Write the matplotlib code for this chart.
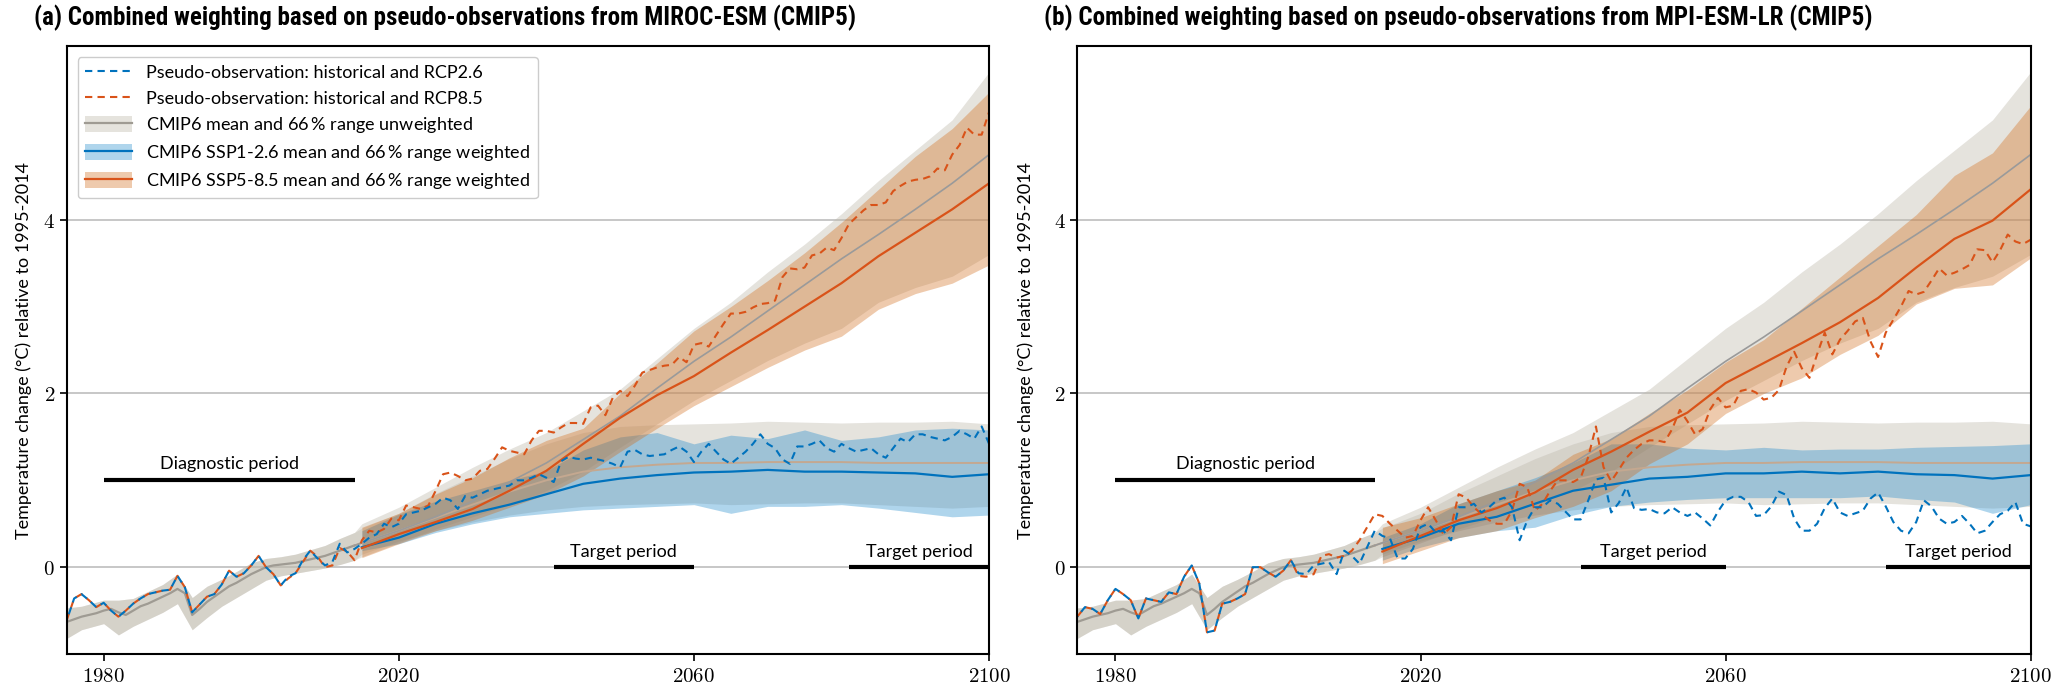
import numpy as np
import matplotlib
matplotlib.use("Agg")
import matplotlib.pyplot as plt
from matplotlib.patches import Patch
from matplotlib.lines import Line2D

plt.rcParams['mathtext.fontset'] = 'cm'
SANS = ['Lato', 'DejaVu Sans']
TITLEF = ['Roboto Condensed', 'Roboto', 'DejaVu Sans']

# ---------------- data ----------------
# pseudo-observations, 1975-2003 shared, then 2004-2100 per scenario
a_obs_hist = [-0.61, -0.36, -0.31, -0.38, -0.46, -0.41, -0.50, -0.57, -0.50, -0.42,
              -0.36, -0.31, -0.29, -0.27, -0.26, -0.10, -0.23, -0.52, -0.43, -0.34,
              -0.31, -0.20, -0.04, -0.11, -0.07, 0.02, 0.13, 0.00, -0.08]
a_obs26 = [-0.21, -0.11, -0.07, 0.08, 0.19, 0.10, 0.02, 0.06, 0.27, 0.17, 0.21,
           0.27, 0.34, 0.38, 0.50, 0.46, 0.50, 0.61, 0.63, 0.65, 0.69,
           0.73, 0.80, 0.77, 0.67, 0.82, 0.80, 0.84, 0.88, 0.90, 0.92,
           0.94, 1.00, 1.00, 1.03, 1.07, 1.03, 0.98, 1.22, 1.27, 1.25,
           1.24, 1.26, 1.24, 1.22, 1.19, 1.15, 1.33, 1.35, 1.30, 1.28,
           1.29, 1.30, 1.35, 1.39, 1.33, 1.21, 1.33, 1.42, 1.33, 1.24,
           1.19, 1.26, 1.33, 1.42, 1.53, 1.42, 1.37, 1.24, 1.19, 1.39,
           1.39, 1.42, 1.46, 1.37, 1.33, 1.42, 1.37, 1.33, 1.35, 1.37,
           1.30, 1.26, 1.37, 1.48, 1.44, 1.53, 1.53, 1.50, 1.48, 1.46,
           1.50, 1.57, 1.53, 1.48, 1.62, 1.42]
a_obs85 = [-0.21, -0.13, -0.07, 0.06, 0.19, 0.12, 0.00, 0.02, 0.22, 0.18, 0.08,
           0.31, 0.42, 0.40, 0.44, 0.56, 0.54, 0.71, 0.69, 0.67, 0.71,
           0.88, 1.07, 1.09, 1.05, 1.00, 1.02, 1.11, 1.13, 1.25, 1.38,
           1.34, 1.32, 1.30, 1.46, 1.57, 1.57, 1.55, 1.61, 1.66, 1.66,
           1.65, 1.84, 1.86, 1.75, 1.95, 2.03, 1.97, 2.09, 2.24, 2.27,
           2.30, 2.32, 2.33, 2.42, 2.36, 2.56, 2.58, 2.54, 2.67, 2.80,
           2.92, 2.92, 2.94, 2.99, 3.03, 3.04, 3.07, 3.34, 3.44, 3.43,
           3.45, 3.59, 3.61, 3.68, 3.65, 3.79, 3.95, 4.03, 4.11, 4.17,
           4.17, 4.20, 4.33, 4.39, 4.44, 4.46, 4.47, 4.50, 4.59, 4.57,
           4.75, 4.86, 5.06, 4.98, 4.98, 5.24]

b_obs_hist = [-0.57, -0.46, -0.48, -0.54, -0.38, -0.25, -0.31, -0.38, -0.59, -0.36,
              -0.38, -0.40, -0.29, -0.31, -0.11, 0.02, -0.19, -0.75, -0.73, -0.42,
              -0.40, -0.36, -0.31, 0.00, 0.00, -0.06, -0.11, -0.04, 0.08]
b_obs26 = [-0.07, -0.08, 0.02, 0.04, 0.06, -0.08, 0.19, 0.13, 0.04, 0.23, 0.42,
           0.36, 0.33, 0.10, 0.10, 0.21, 0.46, 0.50, 0.40, 0.42, 0.31,
           0.69, 0.69, 0.73, 0.63, 0.69, 0.77, 0.80, 0.69, 0.31, 0.54,
           0.69, 0.69, 0.77, 0.73, 0.64, 0.55, 0.55, 0.77, 1.01, 1.03,
           0.63, 0.74, 0.92, 0.68, 0.66, 0.67, 0.63, 0.62, 0.69, 0.63,
           0.59, 0.63, 0.56, 0.48, 0.64, 0.77, 0.81, 0.81, 0.75, 0.59,
           0.60, 0.70, 0.87, 0.83, 0.56, 0.42, 0.42, 0.50, 0.68, 0.79,
           0.63, 0.59, 0.62, 0.65, 0.79, 0.86, 0.70, 0.52, 0.42, 0.39,
           0.52, 0.77, 0.70, 0.56, 0.50, 0.52, 0.59, 0.50, 0.39, 0.42,
           0.52, 0.61, 0.65, 0.75, 0.50, 0.47]
b_obs85 = [-0.10, -0.11, -0.08, 0.13, 0.15, 0.11, 0.13, 0.19, 0.31, 0.46, 0.61,
           0.59, 0.50, 0.42, 0.34, 0.36, 0.54, 0.69, 0.54, 0.38, 0.46,
           0.84, 0.80, 0.69, 0.61, 0.54, 0.50, 0.50, 0.65, 0.96, 0.92,
           0.65, 0.73, 0.88, 1.00, 1.00, 0.98, 1.03, 1.27, 1.62, 1.15,
           0.99, 1.12, 1.26, 1.35, 1.42, 1.46, 1.46, 1.44, 1.59, 1.81,
           1.68, 1.53, 1.59, 1.82, 1.95, 1.84, 1.86, 2.03, 2.05, 2.01,
           1.93, 1.95, 2.04, 2.31, 2.48, 2.29, 2.18, 2.45, 2.70, 2.45,
           2.62, 2.72, 2.83, 2.87, 2.60, 2.42, 2.70, 2.85, 3.00, 3.18,
           3.14, 3.17, 3.30, 3.44, 3.36, 3.39, 3.43, 3.48, 3.66, 3.65,
           3.51, 3.65, 3.83, 3.75, 3.72, 3.77]

# CMIP6 unweighted (same in both panels)
hist_band_years = [1975, 1977, 1980, 1982, 1984, 1986, 1988, 1990, 1992, 1994,
                   1996, 1998, 2000, 2002, 2004, 2006, 2008, 2010, 2012, 2014]
hist_lo = [-0.82, -0.72, -0.65, -0.78, -0.68, -0.60, -0.52, -0.42, -0.72, -0.58,
           -0.45, -0.35, -0.25, -0.15, -0.10, -0.07, -0.04, -0.01, 0.03, 0.08]
hist_hi = [-0.47, -0.45, -0.38, -0.38, -0.36, -0.28, -0.20, -0.08, -0.35, -0.22,
           -0.14, -0.05, 0.05, 0.10, 0.12, 0.15, 0.20, 0.25, 0.33, 0.40]
hist_mean_years = list(range(1975, 2015))
hist_mean = [-0.63, -0.60, -0.57, -0.55, -0.53, -0.50, -0.48, -0.52, -0.55, -0.50,
             -0.45, -0.42, -0.38, -0.34, -0.30, -0.25, -0.30, -0.55, -0.48, -0.40,
             -0.34, -0.28, -0.22, -0.18, -0.13, -0.08, -0.04, 0.00, 0.02, 0.03,
             0.04, 0.05, 0.07, 0.09, 0.11, 0.13, 0.16, 0.19, 0.22, 0.25]

fut_years = [2015, 2020, 2025, 2030, 2035, 2040, 2045, 2050, 2055, 2060,
             2065, 2070, 2075, 2080, 2085, 2090, 2095, 2100]
unw26_lo = [0.15, 0.30, 0.42, 0.52, 0.60, 0.66, 0.70, 0.72, 0.73, 0.74,
            0.72, 0.73, 0.74, 0.74, 0.72, 0.70, 0.68, 0.70]
unw26_hi = [0.45, 0.62, 0.85, 1.05, 1.25, 1.42, 1.55, 1.62, 1.64, 1.65,
            1.66, 1.68, 1.67, 1.66, 1.67, 1.67, 1.68, 1.65]
unw26_mean = [0.28, 0.42, 0.57, 0.72, 0.87, 1.00, 1.10, 1.15, 1.18, 1.20,
              1.20, 1.21, 1.21, 1.21, 1.20, 1.20, 1.20, 1.20]
unw85_lo = [0.12, 0.28, 0.44, 0.58, 0.72, 0.88, 1.10, 1.38, 1.65, 1.92,
            2.15, 2.38, 2.58, 2.75, 3.05, 3.22, 3.35, 3.60]
unw85_hi = [0.50, 0.69, 0.92, 1.15, 1.36, 1.55, 1.80, 2.05, 2.40, 2.75,
            3.05, 3.40, 3.72, 4.07, 4.45, 4.80, 5.15, 5.70]
unw85_mean = [0.28, 0.42, 0.58, 0.76, 0.98, 1.20, 1.47, 1.74, 2.06, 2.37,
              2.65, 2.95, 3.25, 3.55, 3.83, 4.12, 4.42, 4.75]

# CMIP6 weighted, panel a (MIROC-ESM)
a_w26_lo = [0.19, 0.27, 0.40, 0.50, 0.58, 0.62, 0.66, 0.68, 0.70, 0.72,
            0.62, 0.70, 0.70, 0.72, 0.68, 0.63, 0.58, 0.60]
a_w26_hi = [0.42, 0.61, 0.76, 0.88, 1.00, 1.11, 1.35, 1.50, 1.55, 1.42,
            1.52, 1.48, 1.58, 1.46, 1.50, 1.58, 1.60, 1.58]
a_w26_mean = [0.23, 0.34, 0.50, 0.62, 0.72, 0.84, 0.96, 1.02, 1.06, 1.09,
              1.10, 1.12, 1.10, 1.10, 1.09, 1.08, 1.04, 1.07]
a_w85_lo = [0.11, 0.27, 0.42, 0.54, 0.69, 0.84, 1.05, 1.33, 1.60, 1.86,
            2.08, 2.30, 2.50, 2.66, 2.97, 3.15, 3.27, 3.48]
a_w85_hi = [0.46, 0.62, 0.84, 1.03, 1.26, 1.46, 1.60, 2.00, 2.35, 2.72,
            3.00, 3.30, 3.62, 3.97, 4.35, 4.73, 5.05, 5.47]
a_w85_mean = [0.22, 0.38, 0.52, 0.67, 0.88, 1.11, 1.42, 1.72, 1.98, 2.20,
              2.47, 2.73, 3.00, 3.27, 3.58, 3.85, 4.12, 4.42]

# CMIP6 weighted, panel b (MPI-ESM-LR)
b_w26_lo = [0.08, 0.23, 0.34, 0.42, 0.46, 0.60, 0.70, 0.75, 0.78, 0.80,
            0.80, 0.80, 0.80, 0.82, 0.78, 0.75, 0.62, 0.72]
b_w26_hi = [0.34, 0.50, 0.73, 0.88, 1.03, 1.20, 1.42, 1.42, 1.37, 1.35,
            1.38, 1.35, 1.36, 1.36, 1.38, 1.39, 1.40, 1.42]
b_w26_mean = [0.21, 0.34, 0.50, 0.58, 0.73, 0.88, 0.95, 1.02, 1.04, 1.08,
              1.08, 1.10, 1.08, 1.10, 1.07, 1.06, 1.02, 1.06]
b_w85_lo = [0.04, 0.19, 0.34, 0.42, 0.57, 0.70, 0.88, 1.19, 1.42, 1.77,
            2.00, 2.18, 2.45, 2.67, 3.03, 3.21, 3.25, 3.56]
b_w85_hi = [0.46, 0.57, 0.73, 0.88, 1.00, 1.30, 1.48, 1.77, 2.04, 2.36,
            2.62, 2.98, 3.34, 3.70, 4.06, 4.51, 4.77, 5.31]
b_w85_mean = [0.18, 0.36, 0.54, 0.68, 0.86, 1.12, 1.33, 1.56, 1.78, 2.12,
              2.35, 2.58, 2.82, 3.10, 3.45, 3.78, 3.99, 4.35]

titles = ["(a) Combined weighting based on pseudo-observations from MIROC-ESM (CMIP5)",
          "(b) Combined weighting based on pseudo-observations from MPI-ESM-LR (CMIP5)"]
ylabel = "Temperature change (°C) relative to 1995-2014"
legend_labels = ["Pseudo-observation: historical and RCP2.6",
                 "Pseudo-observation: historical and RCP8.5",
                 "CMIP6 mean and 66$\\,$% range unweighted",
                 "CMIP6 SSP1-2.6 mean and 66$\\,$% range weighted",
                 "CMIP6 SSP5-8.5 mean and 66$\\,$% range weighted"]

BLUE = '#0072BD'
ORANGE = '#D95319'
BLUEFILL = '#1a87cb'
ORANGEFILL = '#d16814'
GREY = '#beb9ac'
GREYLINE = '#9f9b93'


def draw_panel(ax, obs_hist, obs26, obs85, w26, w85, title, ylab_x, legend=False):
    hy = np.array(hist_band_years)
    fy = np.array(fut_years)
    # unweighted bands: historical joined to each scenario
    for lo, hi in ((unw26_lo, unw26_hi), (unw85_lo, unw85_hi)):
        ax.fill_between(np.concatenate([hy, fy]), np.concatenate([hist_lo, lo]),
                        np.concatenate([hist_hi, hi]), color=GREY, alpha=0.4, lw=0)
    ax.fill_between(fy, w26[0], w26[1], color=BLUEFILL, alpha=0.35, lw=0)
    ax.fill_between(fy, w85[0], w85[1], color=ORANGEFILL, alpha=0.35, lw=0)

    ax.plot(hist_mean_years, hist_mean, color=GREYLINE, lw=1.6)
    ax.plot([hist_mean_years[-1]] + fut_years, [hist_mean[-1]] + unw26_mean, color='#c4a890', lw=1.4)
    ax.plot([hist_mean_years[-1]] + fut_years, [hist_mean[-1]] + unw85_mean, color='#9a9a9a', lw=1.2)
    ax.plot(fy, w26[2], color=BLUE, lw=1.6)
    ax.plot(fy, w85[2], color=ORANGE, lw=1.6)

    yh = 1975 + np.arange(len(obs_hist))
    yf = 2004 + np.arange(len(obs26))
    ax.plot(np.concatenate([yh, yf]), np.concatenate([obs_hist, obs85]),
            color=ORANGE, lw=1.5, ls=(0, (3.5, 2.5)))
    ax.plot(np.concatenate([yh, yf]), np.concatenate([obs_hist, obs26]),
            color=BLUE, lw=1.5, ls=(3, (3.5, 2.5)))

    # periods
    ax.plot([1980, 2014], [1, 1], color='k', lw=3, solid_capstyle='butt')
    ax.text(1997, 1.1, "Diagnostic period", ha='center', va='bottom', fontsize=13, family=SANS)
    for s, e in ((2041, 2060), (2081, 2100)):
        ax.plot([s, e], [0, 0], color='k', lw=3, solid_capstyle='butt', zorder=5)
        ax.text((s + e) / 2, 0.08, "Target period", ha='center', va='bottom', fontsize=13, family=SANS)

    ax.set_xlim(1975, 2100)
    ax.set_ylim(-1, 6)
    ax.set_xticks([1980, 2020, 2060, 2100])
    ax.set_xticklabels(["$%d$" % v for v in [1980, 2020, 2060, 2100]])
    ax.set_yticks([0, 2, 4])
    ax.set_yticklabels(["$0$", "$2$", "$4$"])
    ax.tick_params(labelsize=15, length=5, width=1.2, color='k')
    ax.grid(axis='y', color='#bdbdbd', lw=1.2)
    ax.set_axisbelow(True)
    for sp in ax.spines.values():
        sp.set_linewidth(1.5)
    ax.set_ylabel(ylabel, fontsize=13, family=SANS)
    ax.yaxis.set_label_coords(ylab_x, 0.5)
    ax.text(-0.035, 1.025, title, transform=ax.transAxes, ha='left', va='bottom',
            fontsize=18, fontweight='bold', family=TITLEF)

    if legend:
        h = [Line2D([], [], color=BLUE, lw=1.5, ls=(0, (3.5, 2.5))),
             Line2D([], [], color=ORANGE, lw=1.5, ls=(0, (3.5, 2.5))),
             (Patch(color=GREY, alpha=0.4, lw=0), Line2D([], [], color=GREYLINE, lw=1.6)),
             (Patch(color=BLUEFILL, alpha=0.35, lw=0), Line2D([], [], color=BLUE, lw=1.6)),
             (Patch(color=ORANGEFILL, alpha=0.35, lw=0), Line2D([], [], color=ORANGE, lw=1.6))]
        ax.legend(h, legend_labels, loc='upper left', prop={'family': SANS, 'size': 13},
                  handlelength=2.6, handleheight=1.0, labelspacing=0.45,
                  borderaxespad=0.6, framealpha=1, edgecolor='#cccccc', fancybox=True)


fig = plt.figure(figsize=(20.67, 6.98), dpi=100)
ax1 = fig.add_axes([0.0323, 0.063, 0.4462, 0.871])
ax2 = fig.add_axes([0.5212, 0.063, 0.4612, 0.871])
draw_panel(ax1, a_obs_hist, a_obs26, a_obs85, (a_w26_lo, a_w26_hi, a_w26_mean),
           (a_w85_lo, a_w85_hi, a_w85_mean), titles[0], -0.038, legend=True)
draw_panel(ax2, b_obs_hist, b_obs26, b_obs85, (b_w26_lo, b_w26_hi, b_w26_mean),
           (b_w85_lo, b_w85_hi, b_w85_mean), titles[1], -0.045)
fig.savefig("out.png", dpi=100)
